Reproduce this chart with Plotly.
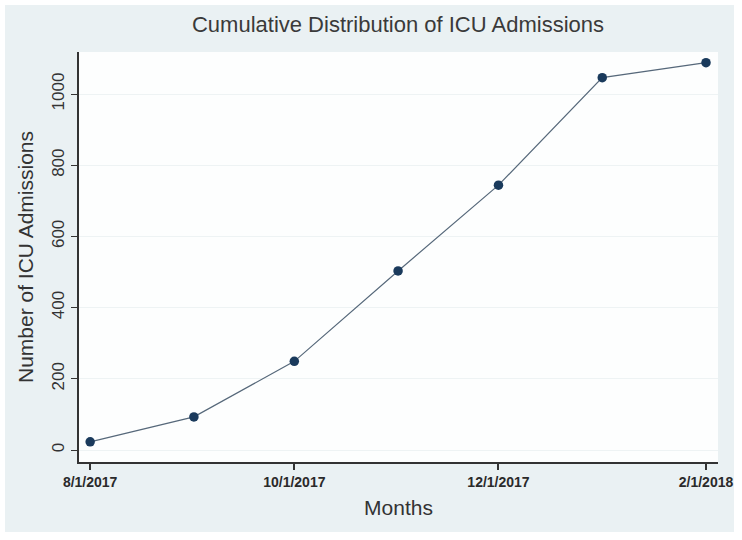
import plotly.graph_objects as go

months = ["2017-08-01", "2017-09-01", "2017-10-01", "2017-11-01",
          "2017-12-01", "2018-01-01", "2018-02-01"]
admissions = [23, 93, 249, 503, 744, 1046, 1088]

x_tick_vals = ["2017-08-01", "2017-10-01", "2017-12-01", "2018-02-01"]
x_tick_text = ["8/1/2017", "10/1/2017", "12/1/2017", "2/1/2018"]
y_tick_vals = [0, 200, 400, 600, 800, 1000]

W, H = 742, 540
L, R, T, B = 79, 24, 52, 78
pw, ph = W - L - R, H - T - B

def px_to_paper_x(px):
    return (px - L) / pw

def px_to_paper_y(py):
    return (H - B - py) / ph

fig = go.Figure()
fig.add_trace(go.Scatter(
    x=months, y=admissions, mode="lines+markers",
    line=dict(color="#56687a", width=1.2),
    marker=dict(color="#1a3a5c", size=9.5, symbol="circle"),
    showlegend=False,
))

fig.update_layout(
    width=W, height=H,
    margin=dict(l=L, r=R, t=T, b=B, pad=0, autoexpand=False),
    paper_bgcolor="white",
    plot_bgcolor="#fcfdfd",
    font=dict(family="Liberation Sans, Arial, sans-serif", color="#333333"),
    title=dict(text="Cumulative Distribution of ICU Admissions",
               x=px_to_paper_x(398), xref="paper", xanchor="center",
               y=1 - 24 / H, yanchor="middle",
               font=dict(size=22, color="#3a3a3a")),
    shapes=[
        dict(type="rect", xref="paper", yref="paper", layer="below",
             x0=px_to_paper_x(5), x1=px_to_paper_x(734),
             y0=px_to_paper_y(532), y1=px_to_paper_y(5),
             fillcolor="#eaf1f3", line=dict(width=0)),
        dict(type="rect", xref="paper", yref="paper", layer="below",
             x0=0, x1=1, y0=0, y1=1,
             fillcolor="#fdfefe", line=dict(width=0)),
    ],
)

fig.update_xaxes(
    type="date",
    automargin=False,
    range=["2017-07-28 16:00", "2018-02-04 14:00"],
    tickvals=x_tick_vals,
    ticktext=["<b>" + t + "</b>" for t in x_tick_text],
    tickfont=dict(size=14, color="#2a2a2a", family="Liberation Sans, Arial, sans-serif"),
    ticks="outside", ticklen=6, tickwidth=1.5, tickcolor="#333333",
    showline=True, linecolor="#333333", linewidth=1.6,
    showgrid=False, zeroline=False,
    title=dict(text="Months", font=dict(size=21, color="#333333"), standoff=12),
)
fig.update_yaxes(
    automargin=False,
    range=[-33.7, 1118],
    tickvals=y_tick_vals,
    tickangle=-90,
    tickfont=dict(size=17, color="#333333"),
    ticks="outside", ticklen=6, tickwidth=1.2, tickcolor="#333333",
    showline=True, linecolor="#333333", linewidth=1.6,
    showgrid=True, gridcolor="#eef3f4", gridwidth=1,
    zeroline=False,
    title=dict(text="Number of ICU Admissions", font=dict(size=21, color="#333333"), standoff=10),
)

fig.write_html("out.html", config={"displayModeBar": False},
               post_script="document.body.style.margin='0';")
